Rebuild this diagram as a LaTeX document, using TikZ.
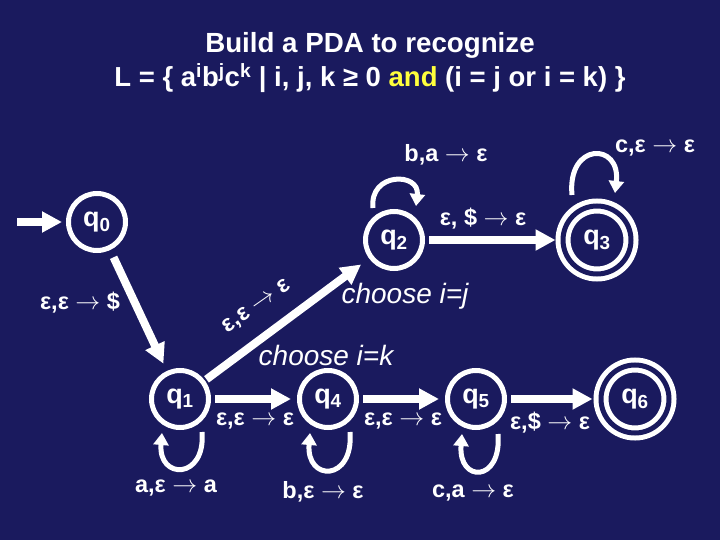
\documentclass[tikz,border=0pt]{standalone}
\usepackage{fontspec}
\setmainfont{Liberation Sans}
\usepackage{xcolor}
\usepackage{tikz}
\usetikzlibrary{arrows.meta, positioning}
\definecolor{slidebg}{RGB}{26,26,94}
\definecolor{andyellow}{RGB}{255,255,60}
\tikzstyle{arrow} = [white, line width=8pt, -{Triangle[length=20pt,width=20pt]}]
\tikzstyle{selfloop} = [white, line width=5pt, -{Triangle[length=12pt,width=15pt]}]
\tikzstyle{state} = [circle, draw=white, line width=5pt, minimum size=57pt, inner sep=0pt, text=white, font=\fontsize{27}{29}\selectfont\bfseries]
\tikzstyle{accept} = [state, double=slidebg, double distance=5pt, minimum size=68pt]
\tikzstyle{lbl} = [text=white, inner sep=1pt, font=\fontsize{23.5}{25}\selectfont\bfseries]
\tikzstyle{choice} = [text=white, inner sep=1pt, font=\fontsize{28}{30}\selectfont\itshape]

\begin{document}
\begin{tikzpicture}[x=1pt, y=-1pt]
    \useasboundingbox (0,0) rectangle (720,540);
    \fill[slidebg] (0,0) rectangle (720,540);

    % Title
    \node (title1) [text=white, font=\fontsize{27.7}{30}\selectfont\bfseries] at (370,45) {Build a PDA to recognize};
    \node (title2) [text=white, font=\fontsize{27.5}{30}\selectfont\bfseries] at (370,78)
        {L = \{ a\textsuperscript{i}b\textsuperscript{j}c\textsuperscript{k} | i, j, k ≥ 0 {\color{andyellow}and} (i = j or i = k) \}};

    % States
    \node (q0) [state] at (97,222) {q\textsubscript{0}};
    \node (q1) [state] at (180,399) {q\textsubscript{1}};
    \node (q2) [state] at (394,240) {q\textsubscript{2}};
    \node (q3) [accept] at (597,240) {q\textsubscript{3}};
    \node (q4) [state] at (328,399) {q\textsubscript{4}};
    \node (q5) [state] at (476,399) {q\textsubscript{5}};
    \node (q6) [accept] at (635,399) {q\textsubscript{6}};
    \coordinate (init) at (17,222);

    % Transitions
    \draw[arrow, shorten >=4pt] (init) -- (q0);
    \draw[arrow, shorten <=8pt, shorten >=8pt] (q0) -- (q1);
    \draw[arrow, shorten <=2pt, shorten >=10pt] (q1) -- (q2);
    \draw[arrow, shorten <=4pt, shorten >=5pt] (q2) -- (q3);
    \draw[arrow, shorten <=4pt, shorten >=6pt] (q1) -- (q4);
    \draw[arrow, shorten <=4pt, shorten >=6pt] (q4) -- (q5);
    \draw[arrow, shorten <=4pt, shorten >=6pt] (q5) -- (q6);

    % Self loops
    \draw[selfloop] ([shift={(-21,-32)}]q2.center) .. controls +(-4,-36) and +(4,-34) .. ([shift={(22,-34)}]q2.center);
    \draw[selfloop] ([shift={(-25,-45)}]q3.center) .. controls +(-5,-53) and +(6,-51) .. ([shift={(18,-47)}]q3.center);
    \draw[selfloop] ([shift={(22,33)}]q1.center) .. controls +(4,48) and +(-4,47) .. ([shift={(-18,34)}]q1.center);
    \draw[selfloop] ([shift={(22,33)}]q4.center) .. controls +(4,50) and +(-4,49) .. ([shift={(-18,34)}]q4.center);
    \draw[selfloop] ([shift={(22,35)}]q5.center) .. controls +(4,49) and +(-4,49) .. ([shift={(-14,35)}]q5.center);

    % Labels
    \node (l01) [lbl] at (80,303) {ε,ε $\rightarrow$ \$};
    \node (l12) [lbl, rotate=35] at (257,307) {ε,ε $\rightarrow$ ε};
    \node (l22) [lbl] at (446,155) {b,a $\rightarrow$ ε};
    \node (l23) [lbl] at (483,219) {ε, \$ $\rightarrow$ ε};
    \node (l33) [lbl] at (655,148) {c,ε $\rightarrow$ ε};
    \node (l11) [lbl] at (176,488) {a,ε $\rightarrow$ a};
    \node (l14) [lbl] at (255,421) {ε,ε $\rightarrow$ ε};
    \node (l44) [lbl] at (323,492) {b,ε $\rightarrow$ ε};
    \node (l45) [lbl] at (403,421) {ε,ε $\rightarrow$ ε};
    \node (l55) [lbl] at (473,493) {c,a $\rightarrow$ ε};
    \node (l56) [lbl] at (550,423) {ε,\$ $\rightarrow$ ε};
    \node (cij) [choice] at (405,296) {choose i=j};
    \node (cik) [choice] at (326,355) {choose i=k};
\end{tikzpicture}
\end{document}
